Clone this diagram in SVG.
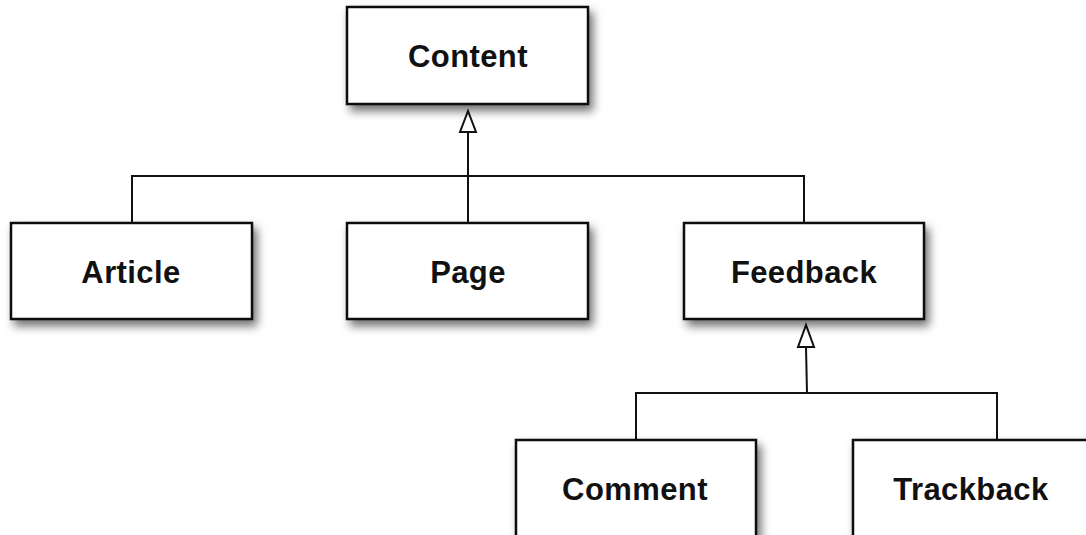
<svg xmlns="http://www.w3.org/2000/svg" width="1086" height="535" viewBox="0 0 1086 535">
<style>
.box{fill:#fff;stroke:#111;stroke-width:2.5;filter:url(#sh)}
.lbl{font-family:"Liberation Sans",Arial,sans-serif;font-weight:bold;font-size:31px;letter-spacing:0.4px;fill:#111;text-anchor:middle}
.ln{fill:none;stroke:#111;stroke-width:2}
.tri{fill:#fff;stroke:#111;stroke-width:2;stroke-linejoin:miter}
</style>
<defs>
<filter id="sh" x="-10%" y="-10%" width="130%" height="140%">
<feDropShadow dx="4" dy="6" stdDeviation="5" flood-color="#000" flood-opacity="0.55"/>
</filter>
</defs>
<rect width="1086" height="535" fill="#fff"/>
<g id="connectors">
<polyline class="ln" points="132,223 132,176 804,176 804,223"/>
<line class="ln" x1="468" y1="132" x2="468" y2="223"/>
<polygon class="tri" points="468,111 460,132 476,132"/>
<polyline class="ln" points="636,440 636,393 997,393 997,440"/>
<line class="ln" x1="806" y1="347" x2="807" y2="393"/>
<polygon class="tri" points="806,325 798,347 814,347"/>
</g>
<g id="content"><rect class="box" x="347" y="7" width="241" height="97"/><text class="lbl" x="468" y="67">Content</text></g>
<g id="article"><rect class="box" x="11" y="223" width="241" height="96"/><text class="lbl" x="131" y="283">Article</text></g>
<g id="page"><rect class="box" x="347" y="223" width="241" height="96"/><text class="lbl" x="468" y="283">Page</text></g>
<g id="feedback"><rect class="box" x="684" y="223" width="240" height="96"/><text class="lbl" x="804" y="283">Feedback</text></g>
<g id="comment"><rect class="box" x="516" y="440" width="240" height="110"/><text class="lbl" x="635" y="500">Comment</text></g>
<g id="trackback"><rect class="box" x="853" y="440" width="240" height="110"/><text class="lbl" x="971" y="500">Trackback</text></g>
</svg>
